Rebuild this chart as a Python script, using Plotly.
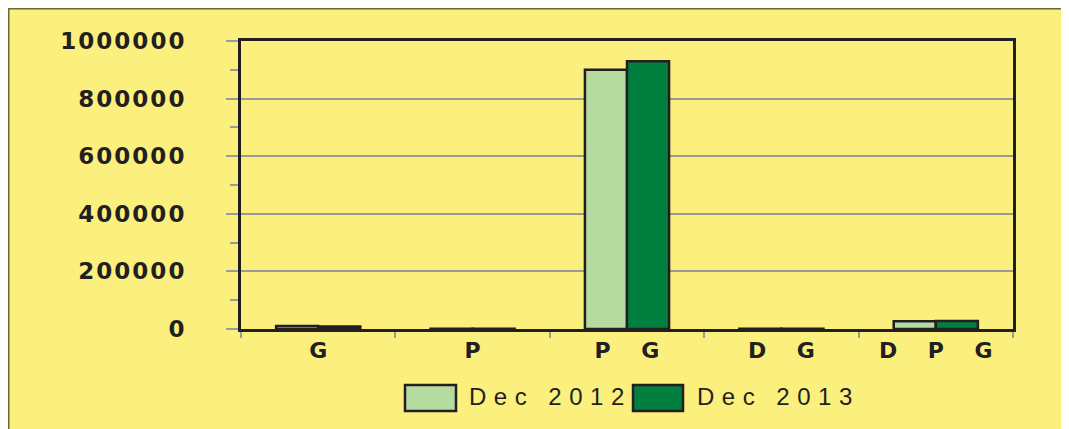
import plotly.graph_objects as go

categories = ["G", "P", "P G", "D G", "D P G"]
tick_labels = ["G", "P",
               "P\u00a0\u00a0\u00a0\u00a0G",
               "D\u00a0\u00a0\u00a0\u00a0G",
               "D\u00a0\u00a0\u00a0\u00a0P\u00a0\u00a0\u00a0\u00a0G"]
dec2012 = [10000, 1000, 900000, 1000, 27000]
dec2013 = [9000, 1000, 930000, 1000, 28000]
series_names = ["Dec 2012", "Dec 2013"]
y_tickvals = [0, 200000, 400000, 600000, 800000, 1000000]
y_ticktext = ["0", "200000", "400000", "600000", "800000", "1000000"]

YELLOW = "#FBEF7E"
LIGHT = "#B6DBA0"
DARK = "#007F3F"
INK = "#231F20"
GRAY = "#9A9A9A"

# page body offset (browser default margin)
OX, OY = 8, 8
W, H = 1069 - OX, 429 - OY
L, R, T, B = 241 - OX, 1013 - OX, 41 - OY, 329 - OY


def px(x):
    return (x - OX - L) / (R - L)


def py(y):
    return (B - (y - OY)) / (B - T)


fig = go.Figure()
for name, vals, col in [(series_names[0], dec2012, LIGHT), (series_names[1], dec2013, DARK)]:
    fig.add_trace(go.Bar(
        x=categories, y=vals, name=name, showlegend=False,
        marker=dict(color=col, line=dict(color=INK, width=2.5)),
    ))

spaced = lambda s, ls: f'<span style="letter-spacing:{ls}px">{s}</span>'

fig.update_layout(
    width=W, height=H,
    margin=dict(l=L, r=W - R, t=T, b=H - B, pad=0),
    paper_bgcolor=YELLOW, plot_bgcolor=YELLOW,
    barmode="group", bargap=0.455, bargroupgap=0,
    xaxis=dict(
        type="category", tickvals=categories, ticktext=tick_labels,
        tickson="boundaries", ticks="outside", ticklen=6, tickwidth=2, tickcolor=GRAY,
        showline=True, linecolor=INK, linewidth=2.5, mirror=True,
        showgrid=False,
        tickfont=dict(family="DejaVu Sans", size=22, color=INK, weight="bold"),
        ticklabelstandoff=0,
    ),
    yaxis=dict(
        range=[0, 1000000], tickvals=y_tickvals,
        ticktext=[spaced(t, 2) for t in y_ticktext],
        ticks="outside", ticklen=12, tickwidth=2, tickcolor=GRAY,
        minor=dict(dtick=100000, ticks="outside", ticklen=8, tickwidth=2, tickcolor=GRAY, showgrid=False),
        showline=True, linecolor=INK, linewidth=3, mirror=True,
        showgrid=True, gridcolor=GRAY, gridwidth=2,
        zeroline=False,
        tickfont=dict(family="DejaVu Sans", size=23, color=INK, weight="bold"),
        ticklabelstandoff=35,
    ),
)

shapes = [
    # panel border (top and left edges)
    dict(type="line", xref="paper", yref="paper", x0=px(OX), x1=px(W + OX), y0=py(OY), y1=py(OY),
         line=dict(color="#6E6636", width=3)),
    dict(type="line", xref="paper", yref="paper", x0=px(OX), x1=px(OX), y0=py(OY), y1=py(H + OY),
         line=dict(color="#6E6636", width=3)),
    # legend boxes
    dict(type="rect", xref="paper", yref="paper", x0=px(405), x1=px(456), y0=py(411), y1=py(385),
         fillcolor=LIGHT, line=dict(color=INK, width=2.5)),
    dict(type="rect", xref="paper", yref="paper", x0=px(633), x1=px(683), y0=py(411), y1=py(385),
         fillcolor=DARK, line=dict(color=INK, width=2.5)),
]
fig.update_layout(shapes=shapes)

for name, x0 in [(series_names[0], 467), (series_names[1], 695)]:
    fig.add_annotation(
        xref="paper", yref="paper", x=px(x0), y=py(396), xanchor="left", yanchor="middle",
        text=spaced(name, 7.5), showarrow=False,
        font=dict(family="Liberation Sans", size=24, color=INK),
    )

fig.write_html(
    "out.html",
    config={"displayModeBar": False},
    post_script="document.documentElement.style.overflow='hidden';document.body.style.overflow='hidden';",
)
